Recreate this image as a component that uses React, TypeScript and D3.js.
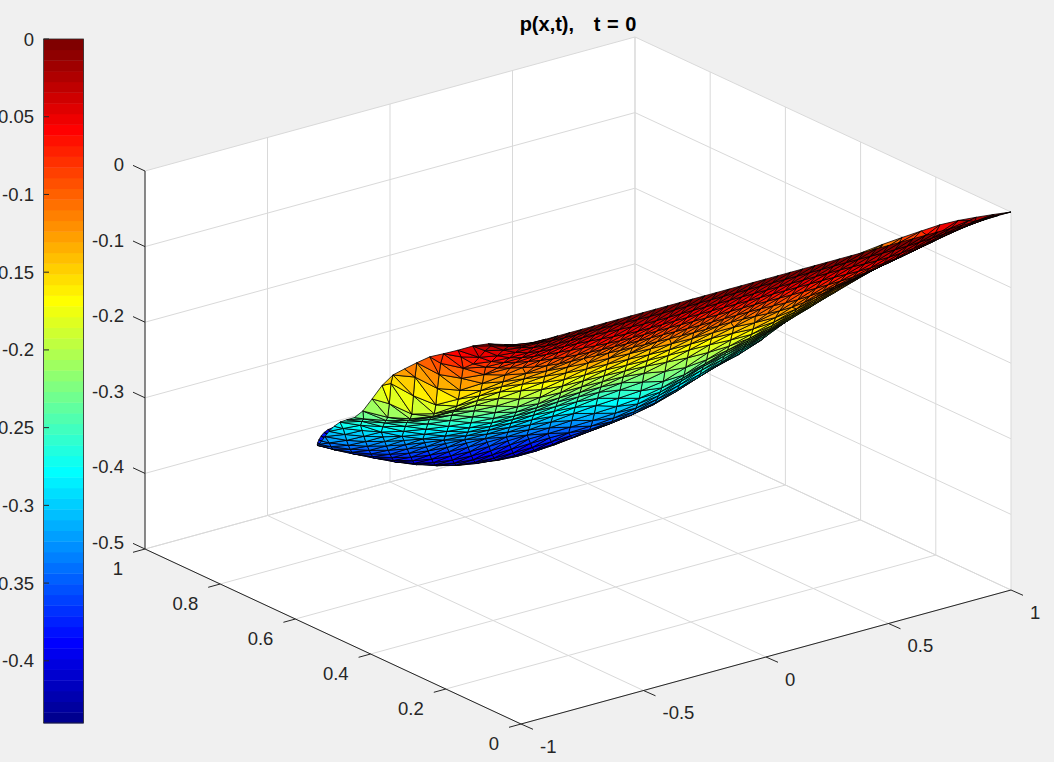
import React from "react";
import * as d3 from "d3";

const xTicks = [-1, -0.5, 0, 0.5, 1];
const yTicks = [0, 0.2, 0.4, 0.6, 0.8, 1];
const zTicks = [-0.5, -0.4, -0.3, -0.2, -0.1, 0];
const colorTicks = [0, -0.05, -0.1, -0.15, -0.2, -0.25, -0.3, -0.35, -0.4];
const colorMin = -0.44;

// Heights p(x, y) (colour band and screen position).
const tableX = [-1, -0.9, -0.8, -0.6, -0.4, -0.2, 0, 0.2, 0.4, 0.6, 0.8, 0.9, 1];
const tableY = [0, 0.1, 0.2, 0.3, 0.4, 0.6, 0.8, 1];
const heightsY0 = [0, 0, 0, 0, 0, 0, 0, 0, 0, 0, 0, 0, 0];
const heightsY1 = [-0.02, -0.04, -0.05, -0.055, -0.06, -0.06, -0.06, -0.06, -0.06, -0.06, -0.05, -0.042, -0.03];
const heightsY2 = [-0.05, -0.08, -0.095, -0.11, -0.115, -0.118, -0.12, -0.12, -0.122, -0.11, -0.096, -0.085, -0.06];
const heightsY3 = [-0.075, -0.115, -0.15, -0.16, -0.172, -0.175, -0.178, -0.18, -0.18, -0.165, -0.145, -0.115, -0.1];
const heightsY4 = [-0.13, -0.145, -0.2, -0.21, -0.23, -0.232, -0.235, -0.25, -0.235, -0.22, -0.195, -0.155, -0.15];
const heightsY6 = [-0.24, -0.25, -0.255, -0.29, -0.315, -0.33, -0.342, -0.355, -0.35, -0.325, -0.3, -0.26, -0.26];
const heightsY8 = [-0.3, -0.3, -0.31, -0.352, -0.385, -0.413, -0.43, -0.43, -0.4, -0.36, -0.3, -0.3, -0.3];
const heightsY10 = [-0.3, -0.3, -0.31, -0.35, -0.37, -0.4, -0.42, -0.41, -0.38, -0.36, -0.3, -0.3, -0.3];
const heights = [heightsY0, heightsY1, heightsY2, heightsY3, heightsY4, heightsY6, heightsY8, heightsY10];

const xH = d3.scaleLinear().domain([-1, 1]).range([0, 490]);
const xV = d3.scaleLinear().domain([-1, 1]).range([0, -134]);
const yH = d3.scaleLinear().domain([0, 1]).range([0, -376]);
const yV = d3.scaleLinear().domain([0, 1]).range([0, -175]);
const zV = d3.scaleLinear().domain([-0.5, 0]).range([0, -378]);
const project = (x: number, y: number, z: number): [number, number] => [
  521 + xH(x) + yH(y),
  724 + xV(x) + yV(y) + zV(z),
];
const pts = (list: [number, number, number][]) =>
  list.map((p) => project(p[0], p[1], p[2]).join(",")).join(" ");

// Cubic through the table nodes, with tangents that respect the uneven node spacing.
function hermite(ts: number[], f: (k: number) => number, v: number) {
  const k = Math.min(Math.max(d3.bisectRight(ts, v) - 1, 0), ts.length - 2);
  const h = ts[k + 1] - ts[k];
  const u = (v - ts[k]) / h;
  const slope = (q: number) => {
    const lo = Math.max(q - 1, 0), hi = Math.min(q + 1, ts.length - 1);
    return (f(hi) - f(lo)) / (ts[hi] - ts[lo]);
  };
  const u2 = u * u, u3 = u2 * u;
  return (2 * u3 - 3 * u2 + 1) * f(k) + (u3 - 2 * u2 + u) * h * slope(k) +
    (-2 * u3 + 3 * u2) * f(k + 1) + (u3 - u2) * h * slope(k + 1);
}
const heightAt = (x: number, y: number) =>
  Math.min(0, hermite(tableY, (r) => hermite(tableX, (c) => heights[r][c], x), y));

function jet64() {
  const m = 64, n = 16;
  const u = [...d3.range(1, n + 1).map((k) => k / n), ...d3.range(n - 1).map(() => 1), ...d3.range(n, 0, -1).map((k) => k / n)];
  const r = new Array(m + 1).fill(0), g = new Array(m + 1).fill(0), b = new Array(m + 1).fill(0);
  u.forEach((v, k) => {
    const gi = 8 + k + 1, ri = gi + n, bi = gi - n;
    if (gi <= m) g[gi] = v;
    if (ri <= m) r[ri] = v;
    if (bi >= 1) b[bi] = v;
  });
  return d3.range(1, m + 1).map((k) => d3.rgb(r[k] * 255, g[k] * 255, b[k] * 255).formatRgb());
}
const jet = jet64();
const colorIndex = d3.scaleQuantize<number>().domain([colorMin, 0]).range(d3.range(64));

function buildMesh() {
  const nodes: [number, number][] = [];
  let y = 0;
  let row = 0;
  while (y < 1) {
    const dx = y < 0.22 ? 0.05 : 0.085;
    const off = row % 2 ? dx / 2 : 0;
    d3.range(-25, 26).forEach((c) => {
      const x = c * dx + off;
      if (x * x + y * y < (row === 0 ? 1.0001 : 0.975)) nodes.push([x, y]);
    });
    y += y < 0.6 ? 0.032 : 0.023;
    row += 1;
  }
  d3.range(1, 70).forEach((k) => {
    const a = (k / 70) * Math.PI;
    nodes.push([Math.cos(a), Math.sin(a)]);
  });
  const del = d3.Delaunay.from(nodes, (p) => p[0], (p) => p[1] * 1.7);
  const tris: { p: [number, number, number][]; key: number; z: number }[] = [];
  for (let i = 0; i < del.triangles.length; i += 3) {
    const ids = [del.triangles[i], del.triangles[i + 1], del.triangles[i + 2]];
    const p = ids.map((id) => {
      const n = nodes[id];
      return [n[0], n[1], heightAt(n[0], n[1])] as [number, number, number];
    });
    const cx = d3.mean(p, (v) => v[0])!;
    const cy = d3.mean(p, (v) => v[1])!;
    tris.push({ p, key: 376 * (cx + 1) + 245 * cy, z: d3.mean(p, (v) => v[2])! });
  }
  return tris.sort((a, b) => b.key - a.key);
}
const mesh = buildMesh();

const FONT = "'Liberation Sans', Arial, sans-serif";
const INK = "#262626";
const GRID = "#d9d9d9";

export default function App() {
  const bar = d3.scaleLinear().domain([colorMin, 0]).range([723, 39]);
  const g = (a: [number, number, number], b: [number, number, number], k: string, c = GRID) => {
    const p = project(a[0], a[1], a[2]), q = project(b[0], b[1], b[2]);
    return <line key={k} x1={p[0]} y1={p[1]} x2={q[0]} y2={q[1]} stroke={c} strokeWidth={1} />;
  };
  const zb = -0.5, zt = 0;
  return (
    <svg width={1054} height={762} style={{ position: "fixed", left: 0, top: 0, background: "#f0f0f0" }} fontFamily={FONT}>
      <polygon fill="#fff" points={pts([[-1, 1, zt], [1, 1, zt], [1, 0, zt], [1, 0, zb], [-1, 0, zb], [-1, 1, zb]])} />
      {xTicks.map((x) => g([x, 0, zb], [x, 1, zb], `fx${x}`))}
      {xTicks.map((x) => g([x, 1, zb], [x, 1, zt], `wx${x}`))}
      {yTicks.map((y) => g([-1, y, zb], [1, y, zb], `fy${y}`))}
      {yTicks.map((y) => g([1, y, zb], [1, y, zt], `wy${y}`))}
      {zTicks.map((z) => g([-1, 1, z], [1, 1, z], `zl${z}`))}
      {zTicks.map((z) => g([1, 1, z], [1, 0, z], `zr${z}`))}

      {mesh.map((t, i) => (
        <polygon key={i} points={pts(t.p)} fill={jet[colorIndex(t.z)]} stroke="#000" strokeWidth={0.8} strokeLinejoin="round" />
      ))}

      {g([-1, 1, zb], [-1, 1, zt], "zaxis", INK)}
      {g([-1, 0, zb], [-1, 1, zb], "yaxis", INK)}
      {g([-1, 0, zb], [1, 0, zb], "xaxis", INK)}
      {zTicks.map((z) => {
        const p = project(-1, 1, z);
        return (
          <g key={`zt${z}`}>
            <line x1={p[0]} y1={p[1]} x2={p[0] - 12} y2={p[1] - 5.6} stroke={INK} />
            <text x={p[0] - 21} y={p[1]} textAnchor="end" fontSize={18.5} fill={INK}>{z}</text>
          </g>
        );
      })}
      {yTicks.map((y) => {
        const p = project(-1, y, zb);
        return (
          <g key={`yt${y}`}>
            <line x1={p[0]} y1={p[1]} x2={p[0] - 12} y2={p[1] + 3.3} stroke={INK} />
            <text x={p[0] - 22} y={p[1] + 26} textAnchor="end" fontSize={18.5} fill={INK}>{y}</text>
          </g>
        );
      })}
      {xTicks.map((x) => {
        const p = project(x, 0, zb);
        return (
          <g key={`xt${x}`}>
            <line x1={p[0]} y1={p[1]} x2={p[0] + 12} y2={p[1] + 5.3} stroke={INK} />
            <text x={p[0] + 19} y={p[1] + 28.5} textAnchor="start" fontSize={18.5} fill={INK}>{x}</text>
          </g>
        );
      })}

      {jet.map((c, i) => {
        const h = 684 / 64;
        return <rect key={`b${i}`} x={44} y={723 - (i + 1) * h} width={39.5} height={h + 0.4} fill={c} />;
      })}
      <rect x={43.5} y={39} width={40} height={684} fill="none" stroke={INK} strokeWidth={0.8} />
      {colorTicks.map((v) => (
        <g key={`c${v}`}>
          <line x1={44} x2={49} y1={bar(v)} y2={bar(v)} stroke={INK} />
          <text x={34} y={bar(v) + 6.5} textAnchor="end" fontSize={18.5} fill={INK}>{v}</text>
        </g>
      ))}
      <text x={578} y={31} textAnchor="middle" fontSize={20} fontWeight="bold" fill="#000" style={{ whiteSpace: "pre", wordSpacing: "1px" }}>
        {"p(x,t),   t = 0"}
      </text>
    </svg>
  );
}
